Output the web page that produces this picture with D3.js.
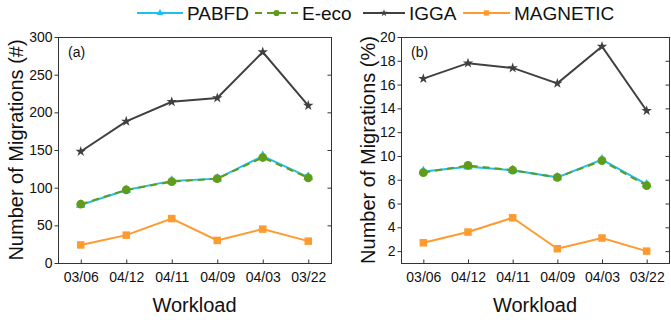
<!DOCTYPE html>
<html>
<head>
<meta charset="utf-8">
<script src="https://cdn.jsdelivr.net/npm/d3@7"></script>
<style>
  body { margin: 0; background: #fff; }
  svg { font-family: "Liberation Sans", Arial, sans-serif; }
</style>
</head>
<body>
<div id="chart"></div>
<script>
// data
const workloads = ["03/06", "04/12", "04/11", "04/09", "04/03", "03/22"];

const countPABFD = [77, 97, 109, 112, 142, 114];
const countEeco = [78, 97, 108, 112, 140, 113];
const countIGGA = [148, 188, 214, 219, 280, 209];
const countMagnetic = [24, 37, 59, 30, 45, 29];

const pctPABFD = [8.7, 9.1, 8.8, 8.2, 9.7, 7.6];
const pctEeco = [8.6, 9.2, 8.8, 8.2, 9.6, 7.5];
const pctIGGA = [16.5, 17.8, 17.4, 16.1, 19.2, 13.8];
const pctMagnetic = [2.7, 3.6, 4.8, 2.2, 3.1, 2.0];

const countTicks = [0, 50, 100, 150, 200, 250, 300];
const pctTicks = [2, 4, 6, 8, 10, 12, 14, 16, 18, 20];

const seriesNames = ["PABFD", "E-eco", "IGGA", "MAGNETIC"];

const style = {
  "PABFD": { color: "#1fc0f0", dash: null, symbol: d3.symbolTriangle, size: 40 },
  "E-eco": { color: "#5e9c1a", dash: "7,5", symbol: d3.symbolCircle, size: 60 },
  "IGGA": { color: "#404040", dash: null, symbol: d3.symbolStar, size: 34 },
  "MAGNETIC": { color: "#ff9a2e", dash: null, symbol: d3.symbolSquare, size: 56 }
};

const width = 671, height = 320;
const svg = d3.select("#chart").append("svg")
  .attr("width", width).attr("height", height);

const panels = [
  {
    tag: "(a)", left: 58, right: 331, domain: [0, 300], ticks: countTicks,
    title: "Number of Migrations (#)", titleX: 16,
    series: { "PABFD": countPABFD, "E-eco": countEeco, "IGGA": countIGGA, "MAGNETIC": countMagnetic }
  },
  {
    tag: "(b)", left: 401, right: 669, domain: [1, 20], ticks: pctTicks,
    title: "Number of Migrations (%)", titleX: 368,
    series: { "PABFD": pctPABFD, "E-eco": pctEeco, "IGGA": pctIGGA, "MAGNETIC": pctMagnetic }
  }
];

const plotTop = 37, plotBottom = 263;
const axisColor = "#333";

panels.forEach((p) => {
  const x = d3.scalePoint().domain(workloads).range([p.left, p.right]).padding(0.5);
  const y = d3.scaleLinear().domain(p.domain).range([plotBottom, plotTop]);
  const g = svg.append("g");

  // frame
  g.append("rect")
    .attr("x", p.left + 0.5).attr("y", plotTop + 0.5)
    .attr("width", p.right - p.left).attr("height", plotBottom - plotTop)
    .style("fill", "none").style("stroke", axisColor).style("stroke-width", 1);

  // left axis
  const yAxis = g.append("g")
    .attr("transform", `translate(${p.left + 0.5},0)`)
    .call(d3.axisLeft(y).tickValues(p.ticks).tickSize(4).tickPadding(2));
  yAxis.select(".domain").remove();
  yAxis.selectAll("line").style("stroke", axisColor);
  yAxis.selectAll("text").style("font-size", "14px").style("fill", "#111")
    .style("font-family", "'Liberation Sans', Arial, sans-serif");

  // mirror ticks on the right
  const yRight = g.append("g")
    .attr("transform", `translate(${p.right + 0.5},0)`)
    .call(d3.axisLeft(y).tickValues(p.ticks).tickSize(4).tickFormat(""));
  yRight.select(".domain").remove();
  yRight.selectAll("line").style("stroke", axisColor);

  // bottom axis, ticks inward
  const xAxis = g.append("g")
    .attr("transform", `translate(0,${plotBottom + 0.5})`)
    .call(d3.axisBottom(x).tickSizeInner(-4).tickSizeOuter(0).tickPadding(9));
  xAxis.select(".domain").remove();
  xAxis.selectAll("line").style("stroke", axisColor);
  xAxis.selectAll("text").style("font-size", "14px").style("fill", "#111")
    .style("font-family", "'Liberation Sans', Arial, sans-serif");

  // axis titles
  g.append("text")
    .attr("transform", `translate(${p.titleX + 7},${(plotTop + plotBottom) / 2})rotate(-90)`)
    .attr("text-anchor", "middle")
    .style("font-size", "20px").style("fill", "#111")
    .text(p.title);

  g.append("text")
    .attr("x", (p.left + p.right) / 2).attr("y", 312)
    .attr("text-anchor", "middle")
    .style("font-size", "20px").style("fill", "#111")
    .text("Workload");

  g.append("text")
    .attr("x", p.left + 10).attr("y", 57)
    .style("font-size", "14px").style("fill", "#111")
    .text(p.tag);

  // lines and markers
  const line = d3.line()
    .x((d, i) => x(workloads[i]))
    .y((d) => y(d));

  seriesNames.forEach((name) => {
    const s = style[name];
    const vals = p.series[name];
    g.append("path")
      .datum(vals)
      .attr("d", line)
      .style("fill", "none")
      .style("stroke", s.color)
      .style("stroke-width", 2)
      .style("stroke-dasharray", s.dash);

    g.selectAll(null)
      .data(vals).enter()
      .append("path")
      .attr("d", d3.symbol().type(s.symbol).size(s.size))
      .attr("transform", (d, i) => `translate(${x(workloads[i])},${y(d)})`)
      .style("fill", s.color);
  });
});

// legend
const legendItems = [
  { name: "PABFD", x0: 137, x1: 183 },
  { name: "E-eco", x0: 255, x1: 298 },
  { name: "IGGA", x0: 363, x1: 405 },
  { name: "MAGNETIC", x0: 463, x1: 510 }
];
const legendY = 13;
const legend = svg.append("g").attr("class", "legend");
const items = legend.selectAll(".item").data(legendItems).enter()
  .append("g");

items.append("line")
  .attr("x1", (d) => d.x0).attr("x2", (d) => d.x1)
  .attr("y1", legendY).attr("y2", legendY)
  .style("stroke", (d) => style[d.name].color)
  .style("stroke-width", 2)
  .style("stroke-dasharray", (d) => style[d.name].dash);

items.append("path")
  .attr("d", (d) => d3.symbol().type(style[d.name].symbol).size(style[d.name].size * 0.5)())
  .attr("transform", (d) => `translate(${(d.x0 + d.x1) / 2},${legendY})`)
  .style("fill", (d) => style[d.name].color);

items.append("text")
  .attr("x", (d) => d.x1 + 4)
  .attr("y", legendY + 7)
  .style("font-size", "19px").style("fill", "#111")
  .text((d) => d.name);
</script>
</body>
</html>
